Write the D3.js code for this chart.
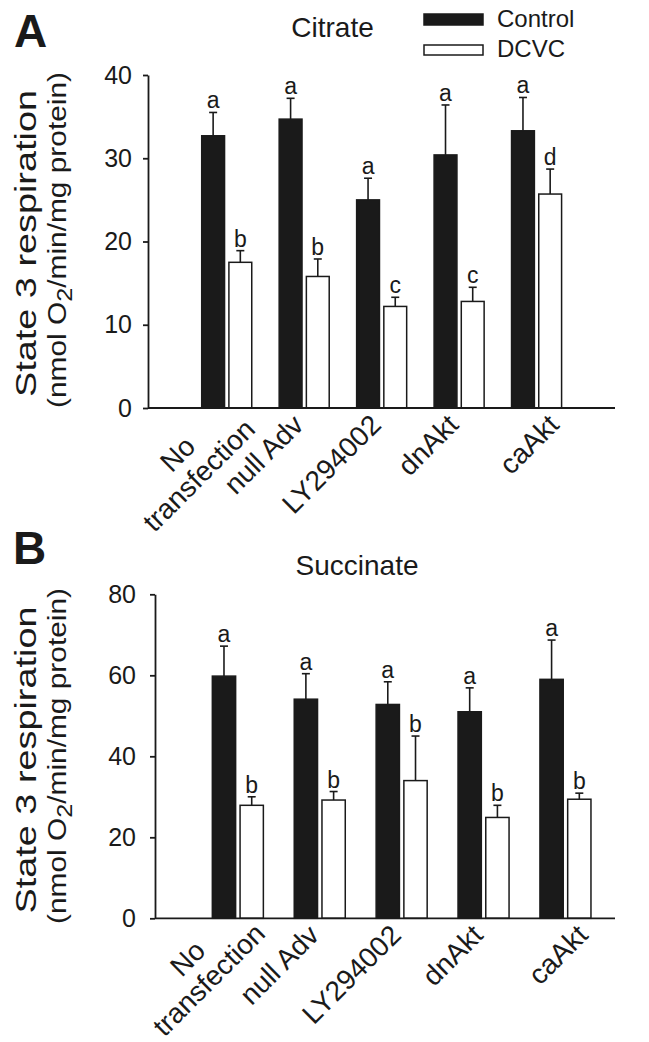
<!DOCTYPE html>
<html><head><meta charset="utf-8">
<script src="https://cdn.jsdelivr.net/npm/d3@7"></script>
<style>
body{margin:0;background:#fff}
svg{display:block}
text{font-family:"Liberation Sans", Arial, Helvetica, sans-serif; fill:#1a1a1a}
</style>
</head><body>
<svg id="chart" width="649" height="1042"></svg>
<script>
// ---------------- data ----------------
const categories = ["No transfection", "null Adv", "LY294002", "dnAkt", "caAkt"];
const categoryLabelLines = [["No", "transfection"], ["null Adv"], ["LY294002"], ["dnAkt"], ["caAkt"]];
const series = ["Control", "DCVC"];

const citrateControl = [32.7, 34.7, 25.0, 30.4, 33.3];
const citrateControlErr = [2.8, 2.5, 2.6, 6.0, 4.0];
const citrateDCVC = [17.5, 15.8, 12.2, 12.8, 25.7];
const citrateDCVCErr = [1.4, 2.1, 1.1, 1.7, 3.0];
const citrateControlLetters = ["a", "a", "a", "a", "a"];
const citrateDCVCLetters = ["b", "b", "c", "c", "d"];
const citrateTicks = [0, 10, 20, 30, 40];

const succinateControl = [59.8, 54.1, 52.8, 51.0, 59.0];
const succinateControlErr = [7.4, 6.3, 5.6, 5.9, 9.7];
const succinateDCVC = [27.9, 29.2, 34.0, 24.9, 29.4];
const succinateDCVCErr = [2.1, 2.1, 11.0, 3.0, 1.5];
const succinateControlLetters = ["a", "a", "a", "a", "a"];
const succinateDCVCLetters = ["b", "b", "b", "b", "b"];
const succinateTicks = [0, 20, 40, 60, 80];

const yTitleLine1 = "State 3 respiration";
const yTitleLine2 = ["(nmol O", "2", "/min/mg protein)"];

// ---------------- drawing ----------------
const svg = d3.select("#chart");
const INK = "#1a1a1a";

function drawPanel(cfg) {
  const g = svg.append("g");
  const y = d3.scaleLinear().domain([0, d3.max(cfg.ticks)]).range(cfg.yRange);
  const x0 = d3.scaleBand().domain(categories).range(cfg.xRange)
    .paddingInner(cfg.pi).paddingOuter(cfg.po);
  const x1 = d3.scaleBand().domain(series).range([0, x0.bandwidth()]).paddingInner(0.16);
  const y0 = y(0);

  // bars
  const rows = categories.map((c, i) => ({
    cat: c,
    vals: [
      {s: "Control", v: cfg.control[i], e: cfg.controlErr[i], l: cfg.controlLetters[i]},
      {s: "DCVC", v: cfg.dcvc[i], e: cfg.dcvcErr[i], l: cfg.dcvcLetters[i]}
    ]
  }));
  const grp = g.selectAll("g.grp").data(rows).join("g")
    .attr("transform", d => `translate(${x0(d.cat)},0)`);
  const bar = grp.selectAll("g.bar").data(d => d.vals).join("g");
  bar.append("rect")
    .attr("x", d => x1(d.s)).attr("width", x1.bandwidth())
    .attr("y", d => y(d.v)).attr("height", d => y0 - y(d.v))
    .attr("fill", d => d.s === "Control" ? INK : "#fff")
    .attr("stroke", INK).attr("stroke-width", 1.5);
  // error bars
  const cx = d => x1(d.s) + x1.bandwidth() / 2;
  bar.append("line")
    .attr("x1", cx).attr("x2", cx)
    .attr("y1", d => y(d.v)).attr("y2", d => y(d.v + d.e))
    .attr("stroke", INK).attr("stroke-width", 1.6);
  bar.append("line")
    .attr("x1", d => cx(d) - 4).attr("x2", d => cx(d) + 4)
    .attr("y1", d => y(d.v + d.e)).attr("y2", d => y(d.v + d.e))
    .attr("stroke", INK).attr("stroke-width", 1.6);
  bar.append("text")
    .attr("x", cx).attr("y", d => y(d.v + d.e) - 4)
    .attr("text-anchor", "middle").attr("font-size", 23)
    .text(d => d.l);

  // y axis
  const ya = g.append("g").attr("transform", `translate(${cfg.axisX},0)`)
    .call(d3.axisLeft(y).tickValues(cfg.ticks).tickSize(5).tickSizeOuter(0).tickPadding(cfg.tickPad));
  ya.select(".domain").attr("stroke", INK).attr("stroke-width", 1.8);
  ya.selectAll(".tick line").attr("stroke", INK).attr("stroke-width", 1.8);
  ya.selectAll(".tick text").attr("font-size", 25).attr("font-family", '"Liberation Sans", Arial, sans-serif').attr("fill", INK);

  // x axis
  const xa = g.append("g").attr("transform", `translate(0,${y0})`)
    .call(d3.axisBottom(x0).tickSize(0).tickFormat(() => ""));
  xa.select(".domain").remove();
  g.append("line").attr("x1", cfg.axisX).attr("x2", cfg.axisEnd)
    .attr("y1", y0).attr("y2", y0).attr("stroke", INK).attr("stroke-width", 1.8);
  xa.selectAll(".tick").each(function(c, i) {
    const lines = categoryLabelLines[i];
    const tk = d3.select(this);
    const shift = (c === "caAkt") ? 23 : 0;
    if (lines.length === 1) {
      tk.append("text")
        .attr("transform", `translate(${1 + shift},18.5) rotate(-45)`)
        .attr("text-anchor", "end").attr("font-size", 28).attr("fill", INK)
        .text(lines[0]);
    } else {
      const lg = tk.append("g").attr("transform", `translate(${cfg.ml[0]},${cfg.ml[1]}) rotate(-45)`);
      const t2 = lg.append("text").attr("text-anchor", "end").attr("font-size", 28).attr("fill", INK).text(lines[1]);
      const w2 = t2.node().getComputedTextLength();
      lg.append("text").attr("text-anchor", "middle").attr("font-size", 28).attr("fill", INK)
        .attr("x", -w2 / 2).attr("y", -30).text(lines[0]);
    }
  });

  // y title
  g.append("text")
    .attr("transform", `translate(${cfg.yt1.x},${cfg.yt1.cy}) rotate(-90)`)
    .attr("text-anchor", "middle").attr("font-size", 30)
    .attr("textLength", cfg.yt1.len).attr("lengthAdjust", "spacingAndGlyphs")
    .text(yTitleLine1);
  const t2 = g.append("text")
    .attr("transform", `translate(${cfg.yt2.x},${cfg.yt2.cy}) rotate(-90)`)
    .attr("text-anchor", "middle").attr("font-size", 26)
    .attr("textLength", cfg.yt2.len).attr("lengthAdjust", "spacingAndGlyphs");
  t2.append("tspan").text(yTitleLine2[0]);
  t2.append("tspan").attr("dy", 6).attr("font-size", 22).text(yTitleLine2[1]);
  t2.append("tspan").attr("dy", -6).text(yTitleLine2[2]);

  // panel title and letter
  g.append("text").attr("x", cfg.titleX).attr("y", cfg.titleY)
    .attr("text-anchor", "middle").attr("font-size", 28).text(cfg.title);
  g.append("text").attr("x", cfg.letterX).attr("y", cfg.letterY)
    .attr("font-size", 46).attr("font-weight", "bold").text(cfg.letter);
}

drawPanel({
  ticks: citrateTicks, yRange: [408, 75], axisX: 148, axisEnd: 615,
  xRange: [188, 575.3], pi: 0.354, po: 0.177, tickPad: 11, ml: [30, 23],
  control: citrateControl, controlErr: citrateControlErr, controlLetters: citrateControlLetters,
  dcvc: citrateDCVC, dcvcErr: citrateDCVCErr, dcvcLetters: citrateDCVCLetters,
  yt1: {x: 36, cy: 243.5, len: 307}, yt2: {x: 66, cy: 240, len: 336},
  title: "Citrate", titleX: 332.5, titleY: 36.7, letter: "A", letterX: 14, letterY: 47
});

drawPanel({
  ticks: succinateTicks, yRange: [918.3, 594.3], axisX: 155, axisEnd: 615,
  xRange: [196.9, 606.4], pi: 0.377, po: 0.1885, tickPad: 14, ml: [29, 17],
  control: succinateControl, controlErr: succinateControlErr, controlLetters: succinateControlLetters,
  dcvc: succinateDCVC, dcvcErr: succinateDCVCErr, dcvcLetters: succinateDCVCLetters,
  yt1: {x: 36, cy: 760, len: 307}, yt2: {x: 66, cy: 756, len: 336},
  title: "Succinate", titleX: 357, titleY: 575, letter: "B", letterX: 13, letterY: 564
});

// legend
const legend = svg.append("g");
series.forEach((s, i) => {
  legend.append("rect").attr("x", 424).attr("y", i === 0 ? 14 : 45)
    .attr("width", 59).attr("height", i === 0 ? 11 : 10)
    .attr("fill", s === "Control" ? INK : "#fff").attr("stroke", INK).attr("stroke-width", 1.5);
  legend.append("text").attr("x", 497).attr("y", i === 0 ? 27.3 : 57.3)
    .attr("font-size", 24).text(s);
});
</script>
</body></html>
